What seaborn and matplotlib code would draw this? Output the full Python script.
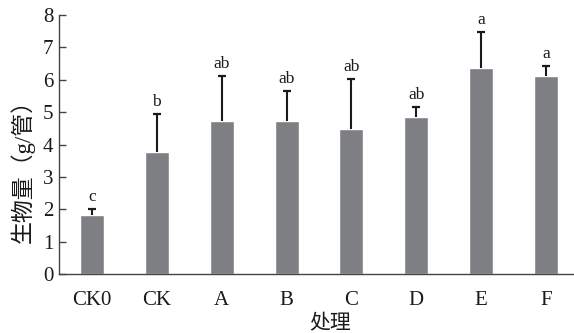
import numpy as np
import pandas as pd
import matplotlib
matplotlib.use("Agg")
import matplotlib.pyplot as plt
import seaborn as sns

# Treatments, mean biomass, upper standard deviation and significance letters
treatments = ["CK0", "CK", "A", "B", "C", "D", "E", "F"]
biomass = [1.82, 3.77, 4.73, 4.73, 4.48, 4.85, 6.36, 6.12]
sd = [0.18, 1.17, 1.39, 0.92, 1.54, 0.31, 1.11, 0.30]
letters = ["c", "b", "ab", "ab", "ab", "ab", "a", "a"]
yticks = [0, 1, 2, 3, 4, 5, 6, 7, 8]

sns.set_theme(style="white")
plt.rcParams["font.family"] = ["Liberation Serif", "Noto Sans CJK SC"]

df = pd.DataFrame({"处理": treatments, "生物量": biomass})

fig = plt.figure(figsize=(5.74, 3.33), dpi=100)
ax = fig.add_axes([0.1028, 0.177, 0.8972, 0.778])

sns.barplot(data=df, x="处理", y="生物量", color="#7e7f83", saturation=1,
            width=0.37, errorbar=None, ax=ax)

# one-sided (upper) error bars: drop the cap at the bar top
x = np.arange(len(treatments))
eb = ax.errorbar(x, biomass, yerr=[np.zeros(len(sd)), sd], fmt="none",
                 ecolor="#1a1a1a", elinewidth=1.5, capsize=3.0, capthick=1.6,
                 zorder=1)
eb[1][0].remove()

for xi, m, s, lab in zip(x, biomass, sd, letters):
    ax.annotate(lab, (xi, m + s), xytext=(0, 3), textcoords="offset points",
                ha="center", va="bottom", fontsize=12.5, color="#1a1a1a")

ax.set_xlim(-0.508, 7.43)
ax.set_ylim(0, 8)
ax.set_yticks(yticks)
ax.set_yticklabels([str(t) for t in yticks], fontsize=15, color="#1a1a1a")
ax.tick_params(axis="y", direction="in", length=5, width=1, color="#444444",
               left=True, pad=4)
ax.tick_params(axis="x", bottom=False, labelsize=15, labelcolor="#1a1a1a", pad=6)

for side in ["top", "right"]:
    ax.spines[side].set_visible(False)
for side in ["left", "bottom"]:
    ax.spines[side].set_color("#444444")
    ax.spines[side].set_linewidth(1.0)

ax.set_xlabel("处理", fontsize=15, color="#1a1a1a")
ax.set_ylabel("生物量（g/管）", fontsize=16.5, color="#1a1a1a")
ax.xaxis.set_label_coords(0.526, -0.158)
ax.yaxis.set_label_coords(-0.047, 0.42)

fig.savefig("out.png", dpi=100)
